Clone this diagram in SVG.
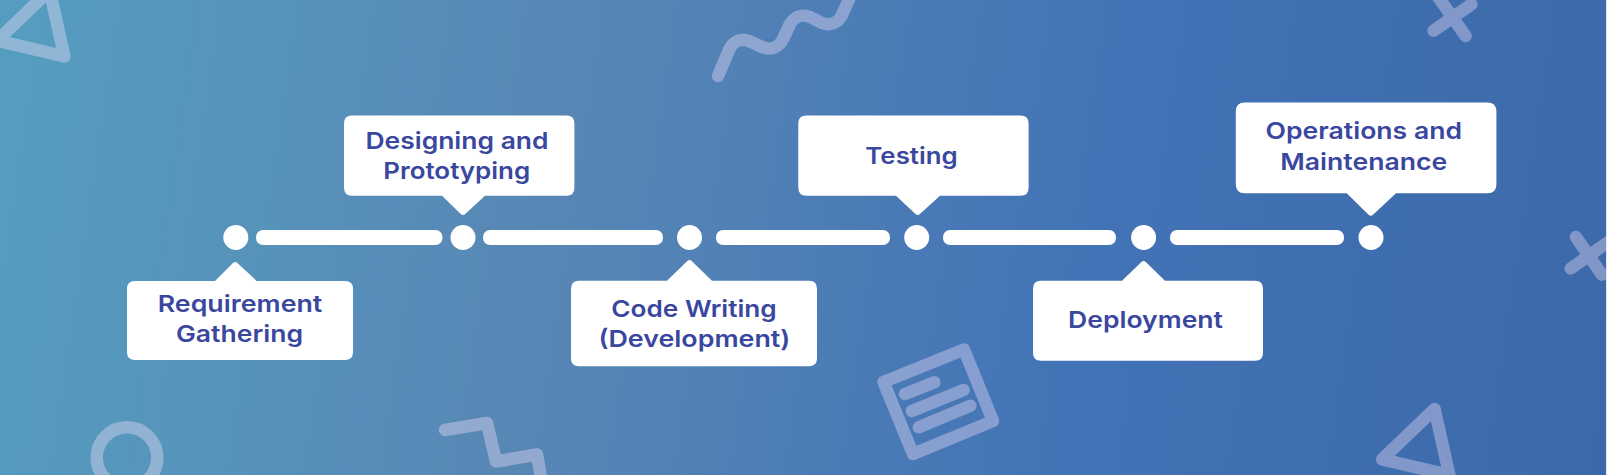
<svg xmlns="http://www.w3.org/2000/svg" width="1607" height="475" viewBox="0 0 1607 475">
<style>
.d{fill:none;stroke:#f8e4fc;stroke-opacity:.37;stroke-width:12.5;stroke-linecap:round;stroke-linejoin:round}
.b{fill:#fff}
.t{font-family:Inter,"Liberation Sans",sans-serif;font-weight:600;font-size:23.5px;fill:#3a479f;text-anchor:middle}
</style>
<defs>
<linearGradient id="bg" gradientUnits="userSpaceOnUse" x1="0" y1="120" x2="1607" y2="360">
<stop offset="0" stop-color="#559dc0"/>
<stop offset=".34" stop-color="#5887b5"/>
<stop offset=".68" stop-color="#4273b6"/>
<stop offset="1" stop-color="#3c69a9"/>
</linearGradient>
</defs>
<rect width="1607" height="475" fill="url(#bg)"/>
<rect x="1606" width="1" height="475" fill="#dfe6f2"/>
<g id="decor">
<path class="d" d="M49.6 -9.7L-2.8 40.6L64.4 56.4Z"/>
<path class="d" d="M1434.6 409L1382.2 459.3L1449.4 475.1Z"/>
<circle class="d" cx="127" cy="457.6" r="30.3"/>
<path class="d" d="M445 430L487 423L496 461.5L537 454.5L544 495"/>
<path class="d" d="M718 76L729 50C733 41 741 38 749 41L762 47C771 51 779 47 783 39L790 24C795 16 803 14 810 17L822 23C830 26 838 23 842 15L850 -3"/>
<path class="d" d="M1433.7 30.7L1471.4 4.3M1465.6 36L1438 -3.3"/>
<path class="d" d="M1570.7 268.5L1628 228M1576 237L1601.7 274.500"/>
<path class="d" d="M883.5 382L964 349.5L993 421L913 454Z"/>
<path class="d" d="M905 394L934.3 382.3M911.9 411L963.6 390M918.8 427.3L970.4 405.7"/>
</g>
<g id="connectors">
<rect class="b" x="256" y="230" width="186.500" height="15" rx="7"/>
<rect class="b" x="483" y="230" width="180" height="15" rx="7"/>
<rect class="b" x="716" y="230" width="174" height="15" rx="7"/>
<rect class="b" x="943" y="230" width="173" height="15" rx="7"/>
<rect class="b" x="1170" y="230" width="174" height="15" rx="7"/>
</g>
<g id="node-1">
<circle class="b" cx="235.800" cy="237.500" r="12.500"/>
<path class="b" d="M135 281H215L233 263Q235.200 261 237.400 263L256.700 281H345Q353 281 353 289V352Q353 360 345 360H135Q127 360 127 352V289Q127 281 135 281Z"/>
<text class="t" x="240" y="311.700" textLength="164.500" lengthAdjust="spacingAndGlyphs">Requirement</text>
<text class="t" x="239.500" y="341.800" textLength="127" lengthAdjust="spacingAndGlyphs">Gathering</text>
</g>
<g id="node-2">
<circle class="b" cx="463" cy="237.500" r="12.500"/>
<path class="b" d="M352 115.500H566.400Q574.400 115.500 574.400 123.500V187.700Q574.400 195.700 566.400 195.700H485L465.200 214Q463 216 460.800 214L442 195.700H352Q344 195.700 344 187.700V123.500Q344 115.500 352 115.500Z"/>
<text class="t" x="457" y="149" textLength="183" lengthAdjust="spacingAndGlyphs">Designing and</text>
<text class="t" x="456.700" y="179" textLength="147" lengthAdjust="spacingAndGlyphs">Prototyping</text>
</g>
<g id="node-3">
<circle class="b" cx="689.500" cy="237.500" r="12.500"/>
<path class="b" d="M579 280.700H667L687.300 261Q689.500 259 691.700 261L712 280.700H809Q817 280.700 817 288.700V358.300Q817 366.300 809 366.300H579Q571 366.300 571 358.300V288.700Q571 280.700 579 280.700Z"/>
<text class="t" x="694" y="317" textLength="165.300" lengthAdjust="spacingAndGlyphs">Code Writing</text>
<text class="t" x="694.400" y="347" textLength="191.800" lengthAdjust="spacingAndGlyphs">(Development)</text>
</g>
<g id="node-4">
<circle class="b" cx="916.700" cy="237.500" r="12.500"/>
<path class="b" d="M806.300 115.500H1020.600Q1028.600 115.500 1028.600 123.500V187.700Q1028.600 195.700 1020.600 195.700H940L919.900 214Q917.700 216 915.500 214L896 195.700H806.300Q798.300 195.700 798.300 187.700V123.500Q798.300 115.500 806.300 115.500Z"/>
<text class="t" x="911.500" y="163.700" textLength="92.300" lengthAdjust="spacingAndGlyphs">Testing</text>
</g>
<g id="node-5">
<circle class="b" cx="1143.600" cy="237.500" r="12.500"/>
<path class="b" d="M1041 280.700H1122L1141.400 262Q1143.600 260 1145.800 262L1165 280.700H1255Q1263 280.700 1263 288.700V352.700Q1263 360.700 1255 360.700H1041Q1033 360.700 1033 352.700V288.700Q1033 280.700 1041 280.700Z"/>
<text class="t" x="1145.500" y="327.700" textLength="155" lengthAdjust="spacingAndGlyphs">Deployment</text>
</g>
<g id="node-6">
<circle class="b" cx="1371" cy="237.500" r="12.500"/>
<path class="b" d="M1244.800 102.500H1487.400Q1496.400 102.500 1496.400 111.500V184.300Q1496.400 193.300 1487.400 193.300H1396L1373 214.700Q1370.800 216.700 1368.600 214.700L1346.700 193.300H1244.800Q1235.800 193.300 1235.800 184.300V111.500Q1235.800 102.500 1244.800 102.500Z"/>
<text class="t" x="1363.800" y="139.300" textLength="196.400" lengthAdjust="spacingAndGlyphs">Operations and</text>
<text class="t" x="1363.800" y="170" textLength="167" lengthAdjust="spacingAndGlyphs">Maintenance</text>
</g>
</svg>
